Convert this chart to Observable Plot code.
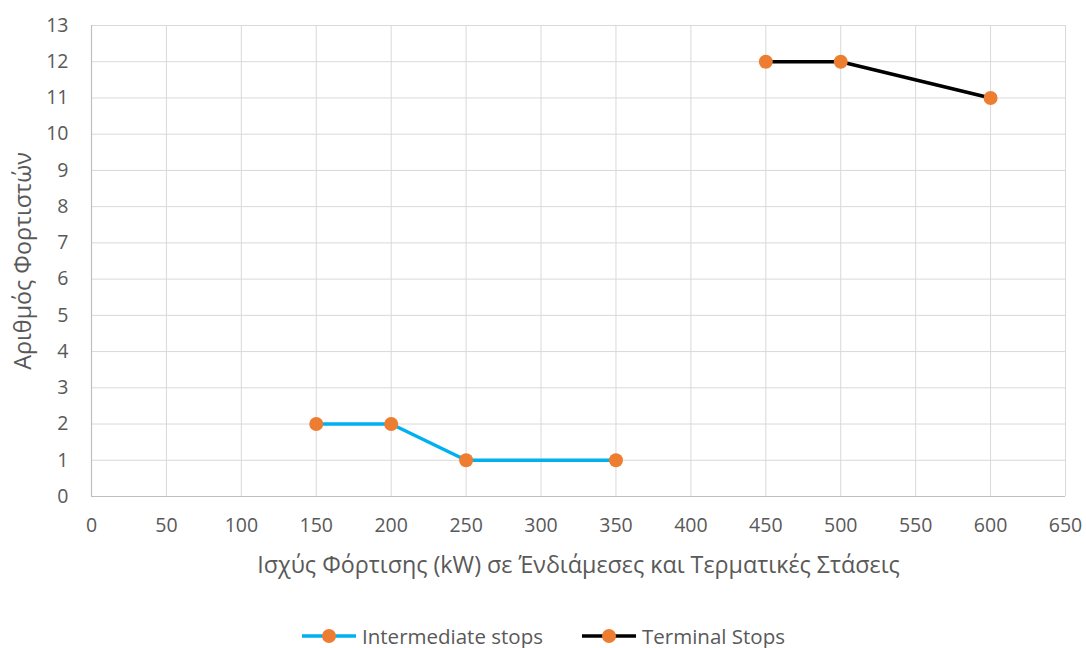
<!DOCTYPE html>
<html>
<head>
<meta charset="utf-8">
<script src="https://cdn.jsdelivr.net/npm/d3@7"></script>
<script src="https://cdn.jsdelivr.net/npm/@observablehq/plot@0.6"></script>
<style>
  html, body { margin: 0; padding: 0; background: #fff; overflow: hidden; }
  #chart { width: 1086px; }
  .legend {
    display: flex; justify-content: center; align-items: center; gap: 38px;
    font-family: "Open Sans", sans-serif; font-size: 20.5px; line-height: 26px; color: #595959;
    height: 28px; margin-top: 18px;
  }
  .legend span.item { display: flex; align-items: center; gap: 5px; }
</style>
</head>
<body>
<div id="chart"></div>
<script>
// Number of chargers by charging power, for intermediate and terminal stops
const intermediatePower = [150, 200, 250, 350];
const intermediateCount = [2, 2, 1, 1];
const terminalPower = [450, 500, 600];
const terminalCount = [12, 12, 11];

const seriesNames = ["Intermediate stops", "Terminal Stops"];
const seriesColors = ["#00b0f0", "#000000"];
const markerColor = "#ed7d31";

const xTicks = d3.range(0, 651, 50);
const yTicks = d3.range(0, 14, 1);

const xTitle = "Ισχύς Φόρτισης (kW) σε Ένδιάμεσες και Τερματικές Στάσεις";
const yTitle = "Αριθμός Φορτιστών";

const intermediate = intermediatePower.map((p, i) => ({power: p, count: intermediateCount[i]}));
const terminal = terminalPower.map((p, i) => ({power: p, count: terminalCount[i]}));

const plot = Plot.plot({
  width: 1086,
  height: 604,
  marginTop: 25,
  marginBottom: 108,
  marginLeft: 91,
  marginRight: 21,
  style: {fontFamily: "'Open Sans', sans-serif", fontSize: "19.5px", color: "#595959", background: "#fff"},
  x: {domain: [0, 650]},
  y: {domain: [0, 13]},
  marks: [
    Plot.gridX(xTicks, {stroke: "#d9d9d9", strokeOpacity: 1, strokeWidth: 1}),
    Plot.gridY(yTicks, {stroke: "#d9d9d9", strokeOpacity: 1, strokeWidth: 1}),
    Plot.ruleX([0], {stroke: "#bfbfbf", strokeWidth: 1.2}),
    Plot.ruleY([0], {stroke: "#bfbfbf", strokeWidth: 1.2}),
    Plot.axisX(xTicks, {tickSize: 0, tickPadding: 22, label: null, fontSize: 19.5, color: "#595959"}),
    Plot.axisY(yTicks, {tickSize: 0, tickPadding: 23, label: null, fontSize: 19.5, color: "#595959"}),
    Plot.text([xTitle], {frameAnchor: "bottom", dy: 76, fontSize: 23.3, fill: "#595959"}),
    Plot.text([yTitle], {frameAnchor: "left", textAnchor: "middle", dx: -68, rotate: -90, fontSize: 23.3, fill: "#595959"}),
    Plot.line(intermediate, {x: "power", y: "count", stroke: seriesColors[0], strokeWidth: 3.5}),
    Plot.line(terminal, {x: "power", y: "count", stroke: seriesColors[1], strokeWidth: 3.5}),
    Plot.dot(intermediate, {x: "power", y: "count", r: 7, fill: markerColor}),
    Plot.dot(terminal, {x: "power", y: "count", r: 7, fill: markerColor})
  ]
});
document.getElementById("chart").append(plot);

// Legend below the chart
const legend = document.createElement("div");
legend.className = "legend";
seriesNames.forEach((name, i) => {
  const item = document.createElement("span");
  item.className = "item";
  item.innerHTML = `<svg width="56" height="16"><line x1="1" y1="8" x2="55" y2="8" stroke="${seriesColors[i]}" stroke-width="3.5"/><circle cx="28" cy="8" r="7" fill="${markerColor}"/></svg><span>${name}</span>`;
  legend.append(item);
});
document.getElementById("chart").append(legend);
</script>
</body>
</html>
